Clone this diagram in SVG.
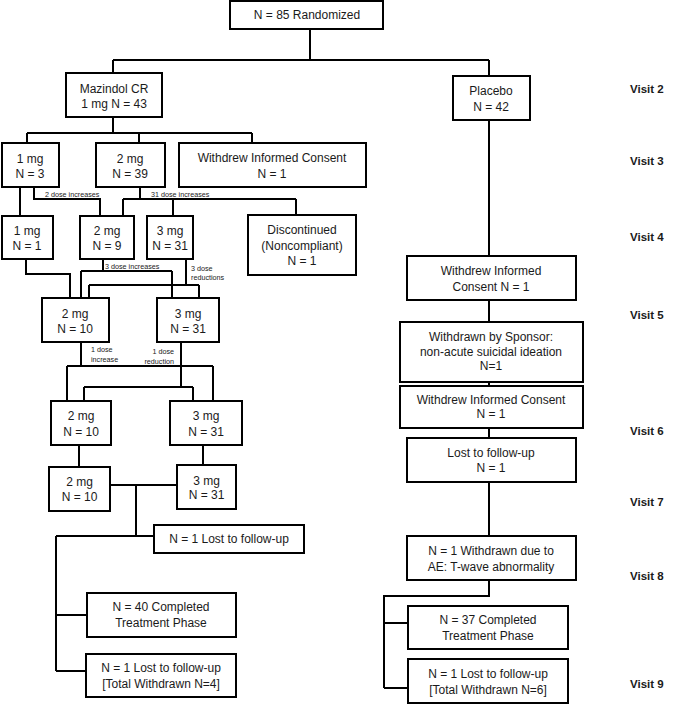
<svg xmlns="http://www.w3.org/2000/svg" width="685" height="704" viewBox="0 0 685 704">
<style>
rect.box{fill:#fff;stroke:#000;stroke-width:2}
text{font-family:"Liberation Sans",Arial,sans-serif;font-size:12px;fill:#1a1a1a;text-anchor:middle;dominant-baseline:central}
text.s{font-size:7.2px;text-anchor:start}
text.e{font-size:7.2px;text-anchor:end}
text.v{font-weight:bold;font-size:11.5px;text-anchor:start}
#connectors path{fill:none;stroke:#000;stroke-width:2}
</style>
<rect width="685" height="704" fill="#fff"/>
<g id="connectors">
<path d="M310 29V60M113 60H489M113 60V73M489 60V76"/>
<path d="M113 117V133M27 133H252M27 133V143M139 133V143M252 133V143"/>
<path d="M20 187V216M34 187V199H100V216"/>
<path d="M140 187V199M123 199H296M123 199V216M173 199V216M296 199V215"/>
<path d="M26 259V274H70V298"/>
<path d="M103 259V271M81 271H172M81 271V298M172 271V298"/>
<path d="M186 259V285M89 285H199M89 285V298M199 285V298"/>
<path d="M81 342V366M67 366H213M67 366V401M213 366V401"/>
<path d="M181 342V387M84 387H193M84 387V401M193 387V401"/>
<path d="M79 445V467M203 445V465"/>
<path d="M110 485H177M136 485V536M56 536H154M56 536V671M56 615H87M56 671H86"/>
<path d="M489 120V256M489 300V322M489 382V386M489 428V438M489 482V536M489 580V596H384V688M384 623H408M384 688H408"/>
</g>
<g id="labels">
<text class="s" x="45" y="194">2 dose increases</text>
<text class="s" x="151" y="194">31 dose increases</text>
<text class="s" x="105" y="266">3 dose increases</text>
<text class="s" x="191" y="268">3 dose</text>
<text class="s" x="191" y="277">reductions</text>
<text class="s" x="91" y="349">1 dose</text>
<text class="s" x="91" y="359">increase</text>
<text class="e" x="174" y="351">1 dose</text>
<text class="e" x="174" y="361">reduction</text>
</g>
<g id="rand"><rect class="box" x="230" y="1" width="153" height="28"/><text x="307" y="15">N = 85 Randomized</text></g>
<g id="maz"><rect class="box" x="66" y="73" width="96" height="44"/><text x="114" y="89">Mazindol CR</text><text x="114" y="104">1 mg N = 43</text></g>
<g id="plac"><rect class="box" x="453" y="76" width="77" height="44"/><text x="491" y="91">Placebo</text><text x="491" y="107">N = 42</text></g>
<g id="v3a"><rect class="box" x="2" y="143" width="57" height="44"/><text x="30" y="159">1 mg</text><text x="30" y="174">N = 3</text></g>
<g id="v3b"><rect class="box" x="96" y="143" width="69" height="44"/><text x="130" y="159">2 mg</text><text x="130" y="174">N = 39</text></g>
<g id="v3c"><rect class="box" x="179" y="143" width="187" height="44"/><text x="272" y="158">Withdrew Informed Consent</text><text x="272" y="174">N = 1</text></g>
<g id="v4a"><rect class="box" x="2" y="216" width="51" height="43"/><text x="27" y="231">1 mg</text><text x="27" y="246">N = 1</text></g>
<g id="v4b"><rect class="box" x="80" y="216" width="54" height="43"/><text x="107" y="231">2 mg</text><text x="107" y="246">N = 9</text></g>
<g id="v4c"><rect class="box" x="147" y="216" width="46" height="43"/><text x="170" y="231">3 mg</text><text x="170" y="246">N = 31</text></g>
<g id="v4d"><rect class="box" x="248" y="215" width="108" height="60"/><text x="302" y="230">Discontinued</text><text x="302" y="246">(Noncompliant)</text><text x="302" y="261">N = 1</text></g>
<g id="v5a"><rect class="box" x="42" y="298" width="67" height="44"/><text x="75" y="314">2 mg</text><text x="75" y="329">N = 10</text></g>
<g id="v5b"><rect class="box" x="157" y="298" width="62" height="44"/><text x="188" y="314">3 mg</text><text x="188" y="329">N = 31</text></g>
<g id="v6a"><rect class="box" x="51" y="401" width="60" height="44"/><text x="81" y="416">2 mg</text><text x="81" y="432">N = 10</text></g>
<g id="v6b"><rect class="box" x="170" y="401" width="72" height="44"/><text x="206" y="416">3 mg</text><text x="206" y="432">N = 31</text></g>
<g id="v7a"><rect class="box" x="49" y="467" width="61" height="44"/><text x="79.5" y="482">2 mg</text><text x="79.5" y="497">N = 10</text></g>
<g id="v7b"><rect class="box" x="177" y="465" width="59" height="44"/><text x="206.5" y="481">3 mg</text><text x="206.5" y="495">N = 31</text></g>
<g id="lost1"><rect class="box" x="154" y="525" width="150" height="28"/><text x="229" y="539">N = 1 Lost to follow-up</text></g>
<g id="comp40"><rect class="box" x="87" y="593" width="149" height="44"/><text x="161" y="607">N = 40 Completed</text><text x="161" y="623">Treatment Phase</text></g>
<g id="lost4"><rect class="box" x="86" y="654" width="150" height="43"/><text x="161" y="668">N = 1 Lost to follow-up</text><text x="161" y="684">[Total Withdrawn N=4]</text></g>
<g id="pwic"><rect class="box" x="407" y="256" width="169" height="44"/><text x="491" y="271">Withdrew Informed</text><text x="491" y="287">Consent N = 1</text></g>
<g id="psponsor"><rect class="box" x="400" y="322" width="183" height="60"/><text x="491" y="337">Withdrawn by Sponsor:</text><text x="491" y="352">non-acute suicidal ideation</text><text x="491" y="366">N=1</text></g>
<g id="pwic2"><rect class="box" x="400" y="386" width="183" height="42"/><text x="491" y="400">Withdrew Informed Consent</text><text x="491" y="414">N = 1</text></g>
<g id="plost"><rect class="box" x="407" y="438" width="169" height="44"/><text x="491" y="453">Lost to follow-up</text><text x="491" y="468">N = 1</text></g>
<g id="pae"><rect class="box" x="407" y="536" width="169" height="44"/><text x="491" y="551">N = 1 Withdrawn due to</text><text x="491" y="567">AE: T-wave abnormality</text></g>
<g id="pcomp"><rect class="box" x="408" y="606" width="160" height="43"/><text x="488" y="620">N = 37 Completed</text><text x="488" y="636">Treatment Phase</text></g>
<g id="plost6"><rect class="box" x="408" y="659" width="160" height="44"/><text x="488" y="674">N = 1 Lost to follow-up</text><text x="488" y="690">[Total Withdrawn N=6]</text></g>
<g id="visits">
<text class="v" x="630" y="89">Visit 2</text>
<text class="v" x="630" y="161">Visit 3</text>
<text class="v" x="630" y="237">Visit 4</text>
<text class="v" x="630" y="315">Visit 5</text>
<text class="v" x="630" y="431">Visit 6</text>
<text class="v" x="630" y="502">Visit 7</text>
<text class="v" x="630" y="576">Visit 8</text>
<text class="v" x="630" y="684">Visit 9</text>
</g>
</svg>
